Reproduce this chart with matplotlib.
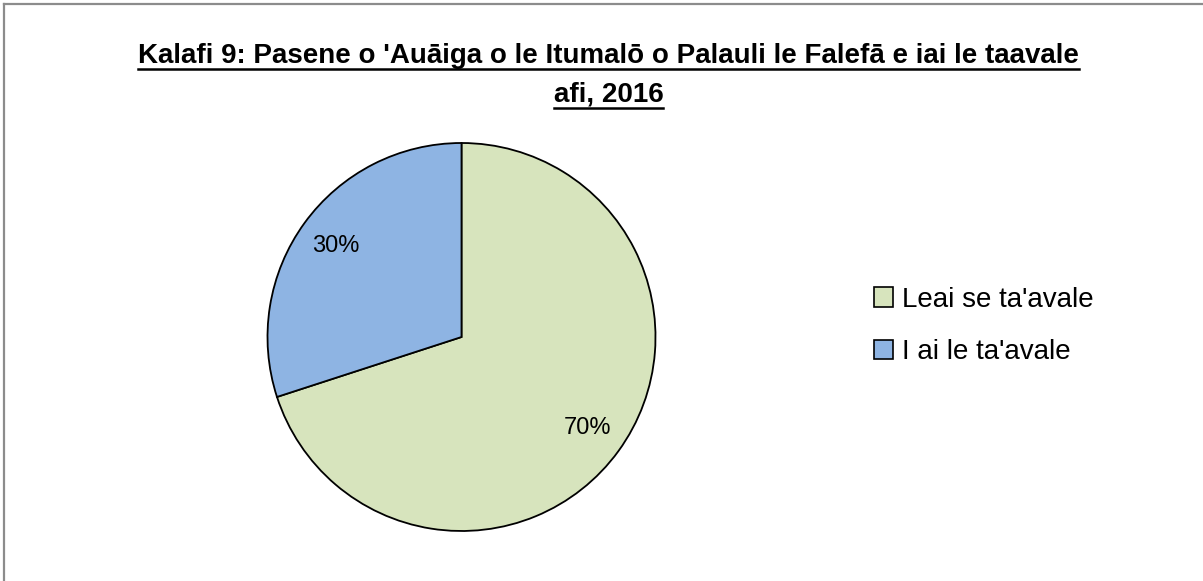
import matplotlib
matplotlib.use("Agg")
import matplotlib.pyplot as plt
from matplotlib.patches import Rectangle
from matplotlib.lines import Line2D

plt.rcParams['font.family'] = ['Liberation Sans', 'DejaVu Sans']

# Data
labels = ["Leai se ta'avale", "I ai le ta'avale"]
values = [70, 30]
colors = ["#D7E4BD", "#8EB4E3"]
title_lines = ["Kalafi 9: Pasene o 'Auāiga o le Itumalō o Palauli le Falefā e iai le taavale",
               "afi, 2016"]

W, H = 1203, 581
fig = plt.figure(figsize=(W / 100, H / 100), dpi=100)
fig.patch.set_facecolor("white")

# chart area border (right/bottom edges fall outside the picture)
fig.add_artist(Line2D([3.5 / W, 3.5 / W], [0, 1 - 3.5 / H], transform=fig.transFigure,
                      color="#8c8c8c", lw=1.6))
fig.add_artist(Line2D([3.5 / W, 1], [1 - 3.5 / H, 1 - 3.5 / H], transform=fig.transFigure,
                      color="#8c8c8c", lw=1.6))

# pie axes: center (461, 337), radius 194 px
R = 194
cx, cy = 461.5, H - 337
ax = fig.add_axes([(cx - R) / W, (cy - R) / H, 2 * R / W, 2 * R / H])
wedges, texts, autotexts = ax.pie(values, colors=colors, startangle=90, counterclock=False,
                                  autopct="%d%%", pctdistance=0.8,
                                  wedgeprops=dict(edgecolor="black", linewidth=1.3),
                                  textprops=dict(fontsize=17, color="black"))
ax.set_xlim(-1, 1)
ax.set_ylim(-1, 1)
ax.set_aspect("auto")

# title with underline
renderer = fig.canvas.get_renderer()
baselines = [63, 102]
for line, yb in zip(title_lines, baselines):
    t = fig.text(608.5 / W, 1 - yb / H, line, ha="center", va="baseline",
                 fontsize=20, fontweight="bold")
    bb = t.get_window_extent(renderer=renderer).transformed(fig.transFigure.inverted())
    yu = 1 - (yb + 5.5) / H
    fig.add_artist(Line2D([bb.x0, bb.x1], [yu, yu], transform=fig.transFigure,
                          color="black", lw=1.8))

# legend
handles = [Rectangle((0, 0), 1, 1, facecolor=c, edgecolor="black", lw=1.2) for c in colors]
fig.legend(handles, labels, loc="center left", bbox_to_anchor=(849 / W, 1 - 326 / H),
           frameon=False, fontsize=20, handlelength=0.7, handleheight=0.7,
           handletextpad=0.3, labelspacing=0.95)

fig.savefig("out.png", dpi=100, facecolor="white")
